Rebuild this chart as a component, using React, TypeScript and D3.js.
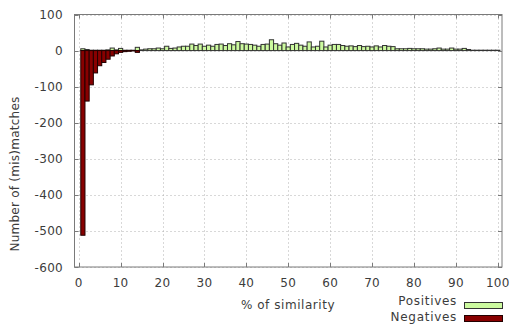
import React from "react";
import * as d3 from "d3";

// similarity bins 1..100
const bins = d3.range(1, 101);

const positives = [
  5, 3, 1, 1, 1, 1, 2, 7, 2, 6,
  1, 1, 1, 9, 2, 4, 5, 5, 7, 5,
  12, 6, 7, 10, 12, 12, 18, 14, 18, 12,
  15, 12, 17, 18, 14, 19, 16, 25, 19, 18,
  17, 15, 12, 17, 18, 30, 19, 15, 21, 10,
  17, 20, 15, 12, 24, 10, 12, 26, 10, 15,
  17, 17, 14, 12, 13, 11, 14, 11, 12, 10,
  13, 10, 14, 12, 11, 5, 5, 5, 6, 5,
  5, 5, 4, 4, 5, 7, 4, 4, 7, 4,
  4, 6, 3, 1, 1, 1, 1, 1, 1, 1,
];

const negatives = [
  -512, -140, -95, -62, -42, -33, -24, -15, -9, -5,
  -3, -2, -1, -5, 0, 0, 0, 0, 0, 0,
];

const xTicks = d3.range(0, 101, 10);
const yTicks = d3.range(-600, 101, 100);

const W = 511;
const H = 324;
const margin = { left: 74.5, top: 14.5, right: 9, bottom: 57 };
const font = "DejaVu Sans, sans-serif";
const textColor = "#3c3c3c";

export default function App() {
  const x = d3.scaleLinear().domain([-1, 101]).range([margin.left, W - margin.right]);
  const y = d3.scaleLinear().domain([-600, 100]).range([H - margin.bottom, margin.top]);
  const bw = x(1) - x(0);

  const x0 = margin.left;
  const x1 = W - margin.right;
  const y0 = margin.top;
  const y1 = H - margin.bottom;

  return (
    <svg
      width={W}
      height={H}
      style={{ position: "absolute", left: 0, top: 0, background: "#fff" }}
      fontFamily={font}
    >
      {/* grid */}
      <g stroke="#b0b0b0" strokeWidth={1} strokeDasharray="1,3">
        {xTicks.map((t) => (
          <line key={"gx" + t} x1={Math.round(x(t)) + 0.5} x2={Math.round(x(t)) + 0.5} y1={y0} y2={y1} />
        ))}
        {yTicks.map((t) => (
          <line key={"gy" + t} x1={x0} x2={x1} y1={Math.round(y(t)) + 0.5} y2={Math.round(y(t)) + 0.5} />
        ))}
      </g>

      {/* bars */}
      <g stroke="#333" strokeWidth={1}>
        {bins.map((b, i) => {
          const v = positives[i];
          return (
            <rect
              key={"p" + b}
              x={x(b - 0.5)}
              y={y(v)}
              width={bw}
              height={Math.max(0, y(0) - y(v))}
              fill="#ccfa9f"
            />
          );
        })}
        {negatives.map((v, i) =>
          v < 0 ? (
            <rect
              key={"n" + i}
              x={x(bins[i] - 0.5)}
              y={y(0)}
              width={bw}
              height={y(v) - y(0)}
              fill="#880000"
              stroke="#220000"
            />
          ) : null
        )}
      </g>

      {/* frame */}
      <rect x={x0} y={y0} width={x1 - x0} height={y1 - y0} fill="none" stroke="#7a7a7a" strokeWidth={1} />

      {/* ticks */}
      <g stroke="#7a7a7a" strokeWidth={1}>
        {xTicks.map((t) => (
          <g key={"tx" + t}>
            <line x1={Math.round(x(t)) + 0.5} x2={Math.round(x(t)) + 0.5} y1={y1} y2={y1 - 4} />
            <line x1={Math.round(x(t)) + 0.5} x2={Math.round(x(t)) + 0.5} y1={y0} y2={y0 + 4} />
          </g>
        ))}
        {yTicks.map((t) => (
          <g key={"ty" + t}>
            <line x1={x0} x2={x0 + 4} y1={Math.round(y(t)) + 0.5} y2={Math.round(y(t)) + 0.5} />
            <line x1={x1} x2={x1 - 4} y1={Math.round(y(t)) + 0.5} y2={Math.round(y(t)) + 0.5} />
          </g>
        ))}
      </g>

      {/* tick labels */}
      <g fontSize={12} fill={textColor} letterSpacing={0.3}>
        {xTicks.map((t) => (
          <text key={"lx" + t} x={x(t)} y={y1 + 20} textAnchor="middle">
            {t}
          </text>
        ))}
        {yTicks.map((t) => (
          <text key={"ly" + t} x={63} y={y(t) + 4.5} textAnchor="end">
            {t}
          </text>
        ))}
      </g>

      {/* axis titles */}
      <text x={288} y={309} textAnchor="middle" fontSize={12} fill={textColor} letterSpacing={0.55}>
        % of similarity
      </text>
      <text
        transform={`translate(19,174) rotate(-90)`}
        textAnchor="middle"
        fontSize={12}
        fill={textColor}
        letterSpacing={0.25}
      >
        Number of (mis)matches
      </text>

      {/* legend */}
      <g fontSize={12} fill={textColor} letterSpacing={0.7}>
        <text x={457} y={305} textAnchor="end">Positives</text>
        <rect x={464.5} y={302.5} width={38} height={6} fill="#ccfa9f" stroke="#333" />
        <text x={457} y={321} textAnchor="end">Negatives</text>
        <rect x={464.5} y={315.5} width={38} height={6} fill="#880000" stroke="#220000" />
      </g>
    </svg>
  );
}
